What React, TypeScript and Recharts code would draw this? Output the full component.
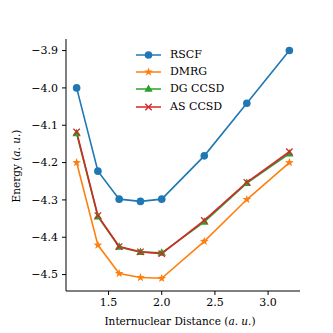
import { LineChart, Line, XAxis, YAxis, Legend } from 'recharts';

const distances = [1.2, 1.4, 1.6, 1.8, 2.0, 2.4, 2.8, 3.2];
const rscf = [-4.0, -4.223, -4.298, -4.304, -4.298, -4.182, -4.041, -3.9];
const dmrg = [-4.2, -4.421, -4.497, -4.508, -4.51, -4.411, -4.299, -4.2];
const dgCcsd = [-4.122, -4.345, -4.426, -4.44, -4.442, -4.359, -4.255, -4.176];
const asCcsd = [-4.118, -4.342, -4.425, -4.439, -4.444, -4.355, -4.253, -4.171];

const xTicks = [1.5, 2.0, 2.5, 3.0];
const yTicks = [-4.5, -4.4, -4.3, -4.2, -4.1, -4.0, -3.9];

const data = distances.map((d, i) => ({
  d,
  rscf: rscf[i],
  dmrg: dmrg[i],
  dg: dgCcsd[i],
  as: asCcsd[i],
}));

type MarkerKind = 'circle' | 'star' | 'triangle' | 'x';

const series: { key: string; name: string; color: string; marker: MarkerKind }[] = [
  { key: 'rscf', name: 'RSCF', color: '#1f77b4', marker: 'circle' },
  { key: 'dmrg', name: 'DMRG', color: '#ff7f0e', marker: 'star' },
  { key: 'dg', name: 'DG CCSD', color: '#2ca02c', marker: 'triangle' },
  { key: 'as', name: 'AS CCSD', color: '#d62728', marker: 'x' },
];

const FONT = '"DejaVu Serif", serif';

const starPoints = (cx: number, cy: number, r: number) => {
  const pts: string[] = [];
  for (let i = 0; i < 10; i++) {
    const rad = i % 2 === 0 ? r : r * 0.4;
    const a = -Math.PI / 2 + (i * Math.PI) / 5;
    pts.push(`${cx + rad * Math.cos(a)},${cy + rad * Math.sin(a)}`);
  }
  return pts.join(' ');
};

const Marker = ({ cx, cy, kind, color }: { cx: number; cy: number; kind: MarkerKind; color: string }) => {
  if (kind === 'circle') return <circle cx={cx} cy={cy} r={3.8} fill={color} />;
  if (kind === 'star') return <polygon points={starPoints(cx, cy, 4.6)} fill={color} />;
  if (kind === 'triangle')
    return <polygon points={`${cx},${cy - 4.6} ${cx - 4.2},${cy + 2.8} ${cx + 4.2},${cy + 2.8}`} fill={color} />;
  const s = 3.2;
  return (
    <g stroke={color} strokeWidth={1.3}>
      <line x1={cx - s} y1={cy - s} x2={cx + s} y2={cy + s} />
      <line x1={cx - s} y1={cy + s} x2={cx + s} y2={cy - s} />
    </g>
  );
};

const fmt = (v: number) => (v < 0 ? '\u2212' : '') + Math.abs(v).toFixed(1);

const LegendBox = () => (
  <div style={{ fontFamily: FONT, fontSize: 11, color: '#000' }}>
    {series.map((s) => (
      <div key={s.key} style={{ display: 'flex', alignItems: 'center', height: 17.3 }}>
        <svg width={30} height={14} style={{ display: 'block' }}>
          <line x1={2} y1={7} x2={27} y2={7} stroke={s.color} strokeWidth={1.5} />
          <Marker cx={14.5} cy={7} kind={s.marker} color={s.color} />
        </svg>
        <span style={{ marginLeft: 6, lineHeight: '14px' }}>{s.name}</span>
      </div>
    ))}
  </div>
);

export default function App() {
  return (
    <div style={{ position: 'absolute', left: 0, top: 0, background: '#fff' }}>
      <LineChart width={333} height={333} data={data} margin={{ top: 39, right: 33, bottom: 12, left: 0 }}>
        <XAxis
          dataKey="d"
          type="number"
          domain={[1.1, 3.3]}
          ticks={xTicks}
          tickFormatter={(v: number) => v.toFixed(1)}
          height={30}
          tickSize={4}
          tickMargin={3}
          stroke="#000"
          tick={{ fill: '#000', fontFamily: FONT, fontSize: 11 }}
          label={{
            content: () => (
              <text x={180} y={325} textAnchor="middle" fontFamily={FONT} fontSize={10.5} fill="#000">
                Internuclear Distance (<tspan fontStyle="italic">a. u.</tspan>)
              </text>
            ),
          }}
        />
        <YAxis
          type="number"
          domain={[-4.544, -3.869]}
          allowDataOverflow
          ticks={yTicks}
          tickFormatter={fmt}
          width={66}
          tickSize={4}
          tickMargin={4}
          stroke="#000"
          tick={{ fill: '#000', fontFamily: FONT, fontSize: 11 }}
          label={{
            content: () => (
              <text
                x={20}
                y={166}
                textAnchor="middle"
                fontFamily={FONT}
                fontSize={10.5}
                fill="#000"
                transform="rotate(-90 20 166)"
              >
                Energy (<tspan fontStyle="italic">a. u.</tspan>)
              </text>
            ),
          }}
        />
        <Legend
          layout="vertical"
          align="center"
          verticalAlign="middle"
          content={() => <LegendBox />}
          wrapperStyle={{ position: 'absolute', top: 46, left: 134, width: 'auto', height: 'auto' }}
        />
        {series.map((s) => (
          <Line
            key={s.key}
            dataKey={s.key}
            name={s.name}
            stroke={s.color}
            strokeWidth={1.6}
            isAnimationActive={false}
            dot={(p: any) => <Marker key={`${s.key}-${p.index}`} cx={p.cx} cy={p.cy} kind={s.marker} color={s.color} />}
          />
        ))}
      </LineChart>
    </div>
  );
}
